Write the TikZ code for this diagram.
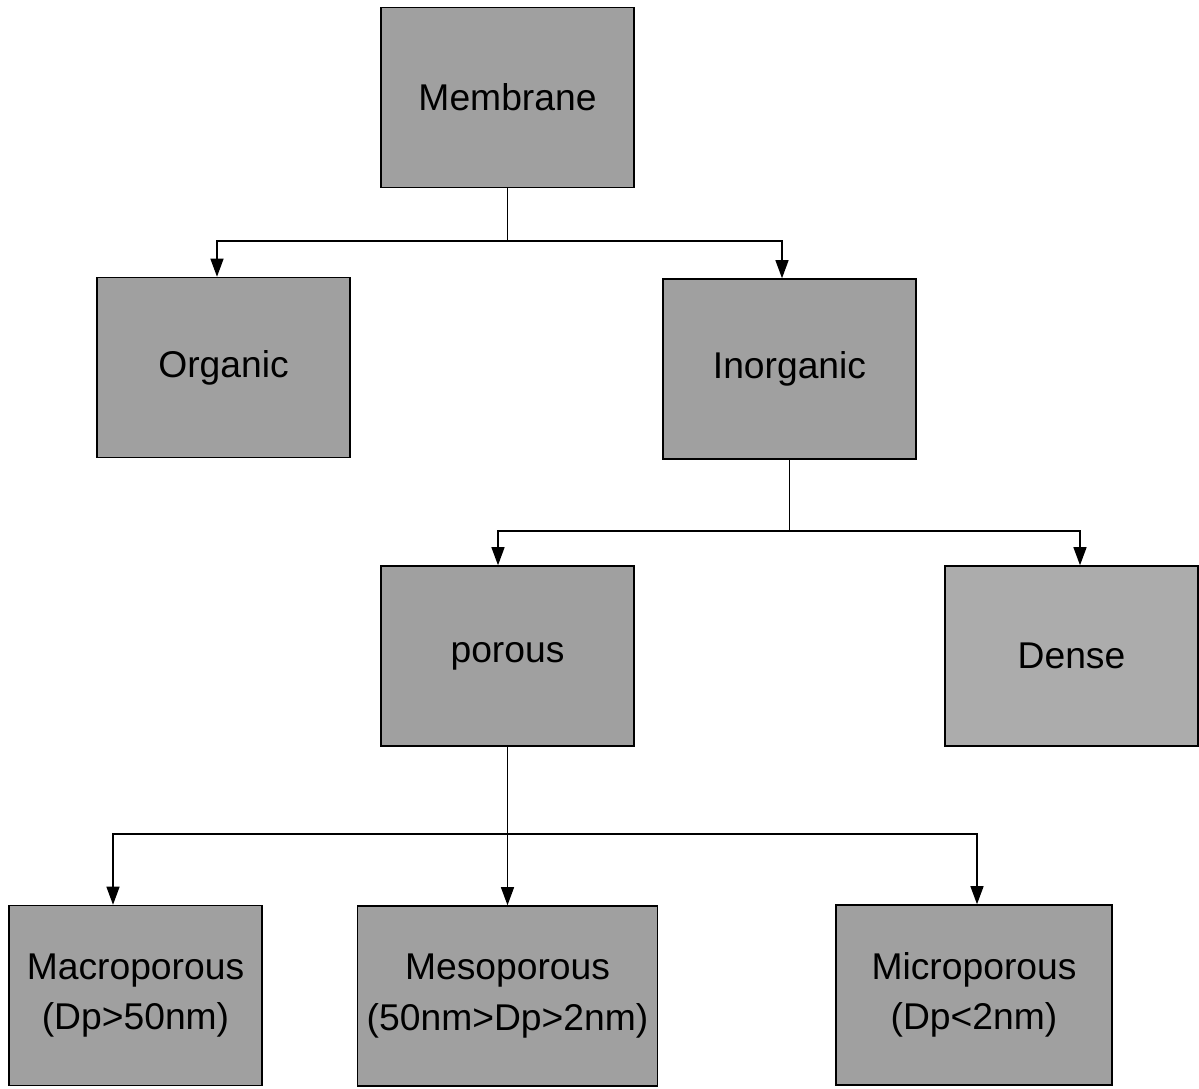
\documentclass[tikz,border=0pt]{standalone}
\usepackage{fontspec}
\setmainfont{Liberation Sans}
\usetikzlibrary{arrows.meta}
\definecolor{boxgray}{RGB}{160,160,160}
\definecolor{lightgray}{RGB}{172,172,172}

\begin{document}
\begin{tikzpicture}[x=0.02cm,y=-0.02cm,
  box/.style={draw, line width=0.9pt, fill=boxgray, minimum width=5.06cm, minimum height=3.6cm,
    align=center, inner sep=0pt, font=\fontsize{21.2}{28.5}\selectfont},
  arr/.style={line width=0.7pt, -{Triangle[length=3.6mm,width=2.6mm]}},
  ln/.style={line width=0.7pt}]
\useasboundingbox (0,0) rectangle (1199,1088);

\node[box] (mem) at (507.5,97.5) {Membrane};
\node[box] (org) at (223.5,367.5) {Organic};
\node[box] (inorg) at (789.5,369) {Inorganic};
\node[box] (por) at (507.5,656) {porous};
\node[box, fill=lightgray] (den) at (1071.5,656) {Dense};
\node[box] (mac) at (135.5,995.5) {Macroporous\\(Dp>50nm)};
\node[box, minimum width=6cm] (mes) at (507.5,996) {Mesoporous\\(50nm>Dp>2nm)};
\node[box, minimum width=5.52cm] (mic) at (974,995) {Microporous\\(Dp<2nm)};

% junctions under each parent
\coordinate (j1) at (mem.south |- 0,241);
\coordinate (j2) at (inorg.south |- 0,531);
\coordinate (j3) at (por.south |- 0,834);

\draw[ln] (mem.south) -- (j1);
\draw[arr] (j1) -| ([xshift=-0.13cm]org.north);
\draw[arr] (j1) -| ([xshift=-0.15cm]inorg.north);

\draw[ln] (inorg.south) -- (j2);
\draw[arr] (j2) -| ([xshift=-0.19cm]por.north);
\draw[arr] (j2) -| ([xshift=0.17cm]den.north);

\draw[ln] (por.south) -- (j3);
\draw[arr] (j3) -| ([xshift=-0.45cm]mac.north);
\draw[arr] (j3) -- (mes.north);
\draw[arr] (j3) -| ([xshift=0.06cm]mic.north);
\end{tikzpicture}
\end{document}
